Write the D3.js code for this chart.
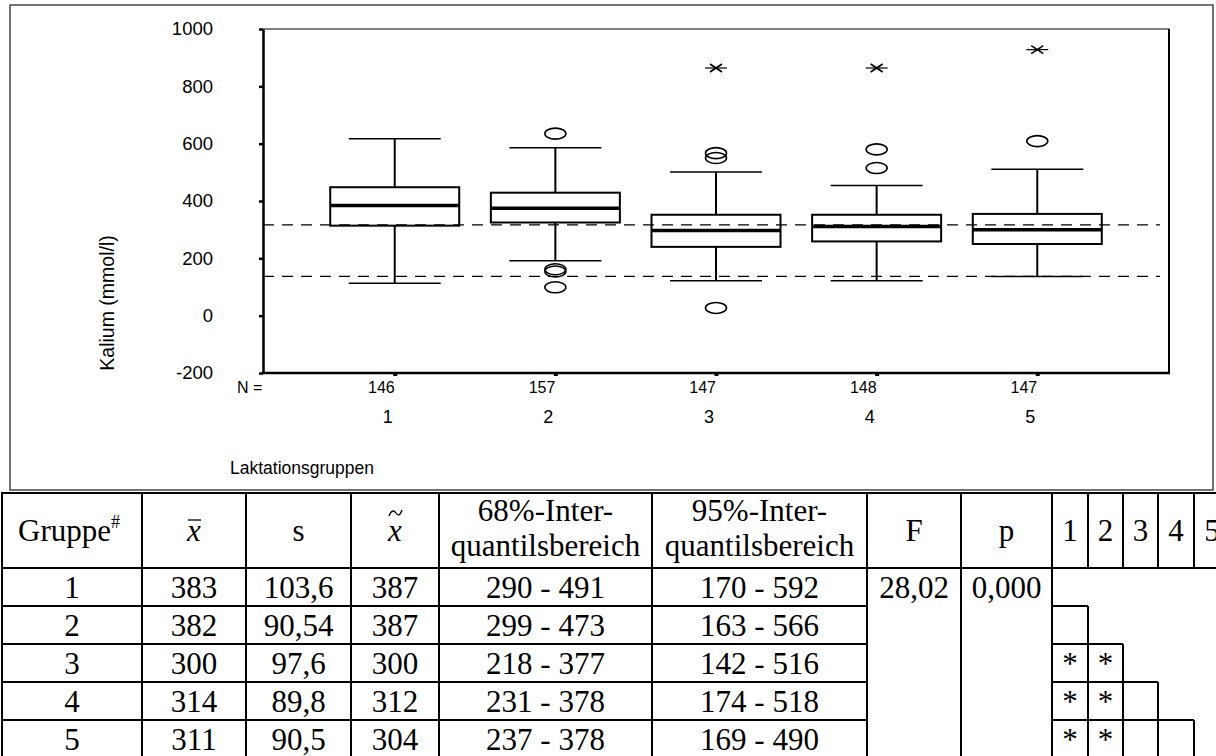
<!DOCTYPE html>
<html>
<head>
<meta charset="utf-8">
<script src="https://cdn.jsdelivr.net/npm/d3@7"></script>
<style>
  body { margin: 0; background: #fff; }
  svg { display: block; }
</style>
</head>
<body>
<div class="canvas"></div>
<script>
// chart values
const groups = ["1", "2", "3", "4", "5"];
const nCounts = [146, 157, 147, 148, 147];
const whiskerLow = [113, 192, 122, 122, 137];
const q1 = [314, 325, 240, 259, 250];
const median = [384, 375, 297, 311, 300];
const q3 = [448, 429, 352, 352, 355];
const whiskerHigh = [617, 586, 501, 454, 511];
const outliers = [[], [635, 162, 154, 99], [567, 550, 27], [580, 515], [609]];
const extremes = [[], [], [864], [864], [928]];
const refLines = [317, 137];
const yTicks = [-200, 0, 200, 400, 600, 800, 1000];

// table values
const tabMean = ["383", "382", "300", "314", "311"];
const tabSd = ["103,6", "90,54", "97,6", "89,8", "90,5"];
const tabMedian = ["387", "387", "300", "312", "304"];
const tab68 = ["290 - 491", "299 - 473", "218 - 377", "231 - 378", "237 - 378"];
const tab95 = ["170 - 592", "163 - 566", "142 - 516", "174 - 518", "169 - 490"];
const fValue = "28,02";
const pValue = "0,000";
const sigMarks = [[], [""], ["*", "*"], ["*", "*", ""], ["*", "*", "", ""]];

const svg = d3.select(".canvas").append("svg").attr("width", 1216).attr("height", 756);

const sans = "Arial, 'Liberation Sans', sans-serif";
const serif = "'Times New Roman', 'Liberation Serif', serif";

// outer frame
svg.append("rect")
    .attr("x", 10).attr("y", 5).attr("width", 1203).attr("height", 485)
    .attr("fill", "none").attr("stroke", "#444").attr("stroke-width", 1.5);

const plot = { left: 263, right: 1169, top: 29, bottom: 373 };

const y = d3.scaleLinear().domain([-200, 1000]).range([plot.bottom, plot.top]);
const x = d3.scalePoint().domain(groups).range([plot.left, plot.right]).padding(0.82);

const boxHalf = 64.5;
const capHalf = 46;

// frame top and right
svg.append("line")
    .attr("x1", plot.left).attr("x2", plot.right).attr("y1", plot.top).attr("y2", plot.top)
    .attr("stroke", "#000").attr("stroke-width", 1);
svg.append("line")
    .attr("x1", plot.right).attr("x2", plot.right).attr("y1", plot.top).attr("y2", plot.bottom)
    .attr("stroke", "#000").attr("stroke-width", 2);

// reference lines
svg.selectAll(".ref").data(refLines).join("line")
    .attr("class", "ref")
    .attr("x1", plot.left).attr("x2", 1160)
    .attr("y1", d => y(d)).attr("y2", d => y(d))
    .attr("stroke", "#000").attr("stroke-width", 1.3)
    .attr("stroke-dasharray", "11,8");

// y axis
const yAxis = svg.append("g")
    .attr("transform", `translate(${plot.left},0)`)
    .call(d3.axisLeft(y).tickValues(yTicks).tickSize(4).tickPadding(46).tickSizeOuter(0)
        .tickFormat(d => String(d)));
yAxis.select(".domain").attr("stroke-width", 2.5);
yAxis.selectAll(".tick line").attr("stroke-width", 2.5);
yAxis.selectAll("text").attr("font-family", sans).attr("font-size", 18.5).attr("fill", "#000");

// x axis
const xAxis = svg.append("g")
    .attr("transform", `translate(0,${plot.bottom})`)
    .call(d3.axisBottom(x).tickSize(3).tickFormat("").tickSizeOuter(0));
xAxis.select(".domain").attr("stroke-width", 2.5)
    .attr("d", `M${plot.left - 1},0H${plot.right + 1}`);
xAxis.selectAll(".tick line").attr("stroke-width", 4);

// N row
svg.append("text")
    .attr("x", 237).attr("y", 393)
    .attr("font-family", sans).attr("font-size", 16).text("N =");
svg.selectAll(".ncount").data(groups).join("text")
    .attr("class", "ncount")
    .attr("x", d => x(d)).attr("y", 393)
    .attr("text-anchor", "end")
    .attr("font-family", sans).attr("font-size", 16)
    .text((d, i) => nCounts[i]);

// category labels
svg.selectAll(".cat").data(groups).join("text")
    .attr("class", "cat")
    .attr("x", d => x(d) - 7).attr("y", 423)
    .attr("text-anchor", "middle")
    .attr("font-family", sans).attr("font-size", 18)
    .text(d => d);

svg.append("text")
    .attr("x", 302).attr("y", 474)
    .attr("text-anchor", "middle")
    .attr("font-family", sans).attr("font-size", 17.5)
    .text("Laktationsgruppen");

svg.append("text")
    .attr("transform", "translate(114,303) rotate(-90)")
    .attr("text-anchor", "middle")
    .attr("font-family", sans).attr("font-size", 19.5)
    .text("Kalium (mmol/l)");

// boxes
const boxes = svg.selectAll(".box").data(groups).join("g")
    .attr("class", "box")
    .attr("transform", d => `translate(${x(d)},0)`);

boxes.append("line")
    .attr("y1", (d, i) => y(whiskerHigh[i])).attr("y2", (d, i) => y(q3[i]))
    .attr("stroke", "#000").attr("stroke-width", 2);
boxes.append("line")
    .attr("y1", (d, i) => y(q1[i])).attr("y2", (d, i) => y(whiskerLow[i]))
    .attr("stroke", "#000").attr("stroke-width", 2);
boxes.append("line")
    .attr("x1", -capHalf).attr("x2", capHalf)
    .attr("y1", (d, i) => y(whiskerHigh[i])).attr("y2", (d, i) => y(whiskerHigh[i]))
    .attr("stroke", "#000").attr("stroke-width", 1.5);
boxes.append("line")
    .attr("x1", -capHalf).attr("x2", capHalf)
    .attr("y1", (d, i) => y(whiskerLow[i])).attr("y2", (d, i) => y(whiskerLow[i]))
    .attr("stroke", "#000").attr("stroke-width", 1.5);
boxes.append("rect")
    .attr("x", -boxHalf).attr("width", boxHalf * 2)
    .attr("y", (d, i) => y(q3[i]))
    .attr("height", (d, i) => y(q1[i]) - y(q3[i]))
    .attr("fill", "none").attr("stroke", "#000").attr("stroke-width", 2);
boxes.append("line")
    .attr("x1", -boxHalf).attr("x2", boxHalf)
    .attr("y1", (d, i) => y(median[i])).attr("y2", (d, i) => y(median[i]))
    .attr("stroke", "#000").attr("stroke-width", 3.5);

// outliers (circles) and extremes (stars)
boxes.each(function (d, i) {
    d3.select(this).selectAll(".out").data(outliers[i]).join("ellipse")
        .attr("class", "out")
        .attr("cx", 0).attr("cy", v => y(v))
        .attr("rx", 10.5).attr("ry", 5.5)
        .attr("fill", "none").attr("stroke", "#000").attr("stroke-width", 1.6);

    const ext = d3.select(this).selectAll(".ext").data(extremes[i]).join("g")
        .attr("class", "ext")
        .attr("transform", v => `translate(0,${y(v)})`);
    ext.append("line").attr("x1", -11).attr("x2", 11)
        .attr("stroke", "#000").attr("stroke-width", 1.2);
    ext.append("path").attr("d", "M-6,-4L6,4M-6,4L6,-4")
        .attr("stroke", "#000").attr("stroke-width", 1.6);
});

// ---------- table ----------
const colX = [2, 142, 246, 351, 439, 652, 867, 961, 1052, 1088, 1123, 1158, 1194, 1230];
const rowY = [493, 568, 606, 644, 682, 720, 758];
const mid = k => (colX[k] + colX[k + 1]) / 2;
const table = svg.append("g").attr("font-family", serif).attr("font-size", 31).attr("fill", "#000");
const lw = 2;

function hline(x1, x2, yy) {
    table.append("line").attr("x1", x1).attr("x2", x2).attr("y1", yy).attr("y2", yy)
        .attr("stroke", "#000").attr("stroke-width", lw);
}
function vline(xx, y1, y2) {
    table.append("line").attr("x1", xx).attr("x2", xx).attr("y1", y1).attr("y2", y2)
        .attr("stroke", "#000").attr("stroke-width", lw);
}

// header lines
hline(colX[0] - 1, 1216, rowY[0]);
hline(colX[0] - 1, 1216, rowY[1]);
colX.forEach((cx, k) => {
    if (k <= 8) vline(cx, rowY[0], rowY[6]);
    else if (k < 13) vline(cx, rowY[0], rowY[1]);
});
// body row lines (left part only)
for (let r = 2; r <= 5; r++) hline(colX[0] - 1, colX[6], rowY[r]);

// significance triangle
sigMarks.forEach((marks, r) => {
    if (marks.length === 0) return;
    const top = rowY[r + 1], bot = rowY[r + 2];
    hline(colX[8], colX[8 + marks.length], top);
    marks.forEach((m, j) => {
        vline(colX[9 + j], top, bot);
        if (m) table.append("text").attr("x", mid(8 + j)).attr("y", top + 30)
            .attr("text-anchor", "middle").text(m);
    });
});

// header text
const hdr = table.append("text").attr("x", 18).attr("y", 541);
hdr.append("tspan").text("Gruppe");
hdr.append("tspan").attr("font-size", 18).attr("dy", -13).text("#");

table.append("text").attr("x", mid(1)).attr("y", 541).attr("text-anchor", "middle")
    .attr("font-style", "italic").text("x");
table.append("line").attr("x1", mid(1) - 6).attr("x2", mid(1) + 7).attr("y1", 520).attr("y2", 520)
    .attr("stroke", "#000").attr("stroke-width", 1.3);
table.append("text").attr("x", mid(2)).attr("y", 541).attr("text-anchor", "middle").text("s");
table.append("text").attr("x", mid(3)).attr("y", 541).attr("text-anchor", "middle")
    .attr("font-style", "italic").text("x");
const tx = mid(3);
table.append("path")
    .attr("d", `M${tx - 6},516 C${tx - 4},510 ${tx - 1},510 ${tx + 1},513 S${tx + 5},516 ${tx + 7},510`)
    .attr("fill", "none").attr("stroke", "#000").attr("stroke-width", 1.3);

[["68%-Inter-", "quantilsbereich", 4], ["95%-Inter-", "quantilsbereich", 5]].forEach(h => {
    table.append("text").attr("x", mid(h[2])).attr("y", 521).attr("text-anchor", "middle").text(h[0]);
    table.append("text").attr("x", mid(h[2])).attr("y", 556).attr("text-anchor", "middle").text(h[1]);
});
table.append("text").attr("x", mid(6)).attr("y", 541).attr("text-anchor", "middle").text("F");
table.append("text").attr("x", mid(7)).attr("y", 541).attr("text-anchor", "middle").text("p");
groups.forEach((g, j) => {
    table.append("text").attr("x", mid(8 + j)).attr("y", 541).attr("text-anchor", "middle").text(g);
});

// body text
const cols = [groups, tabMean, tabSd, tabMedian, tab68, tab95];
cols.forEach((col, k) => {
    col.forEach((v, r) => {
        table.append("text").attr("x", mid(k)).attr("y", rowY[r + 1] + 30)
            .attr("text-anchor", "middle").text(v);
    });
});
table.append("text").attr("x", mid(6)).attr("y", rowY[1] + 30).attr("text-anchor", "middle").text(fValue);
table.append("text").attr("x", mid(7)).attr("y", rowY[1] + 30).attr("text-anchor", "middle").text(pValue);
</script>
</body>
</html>
